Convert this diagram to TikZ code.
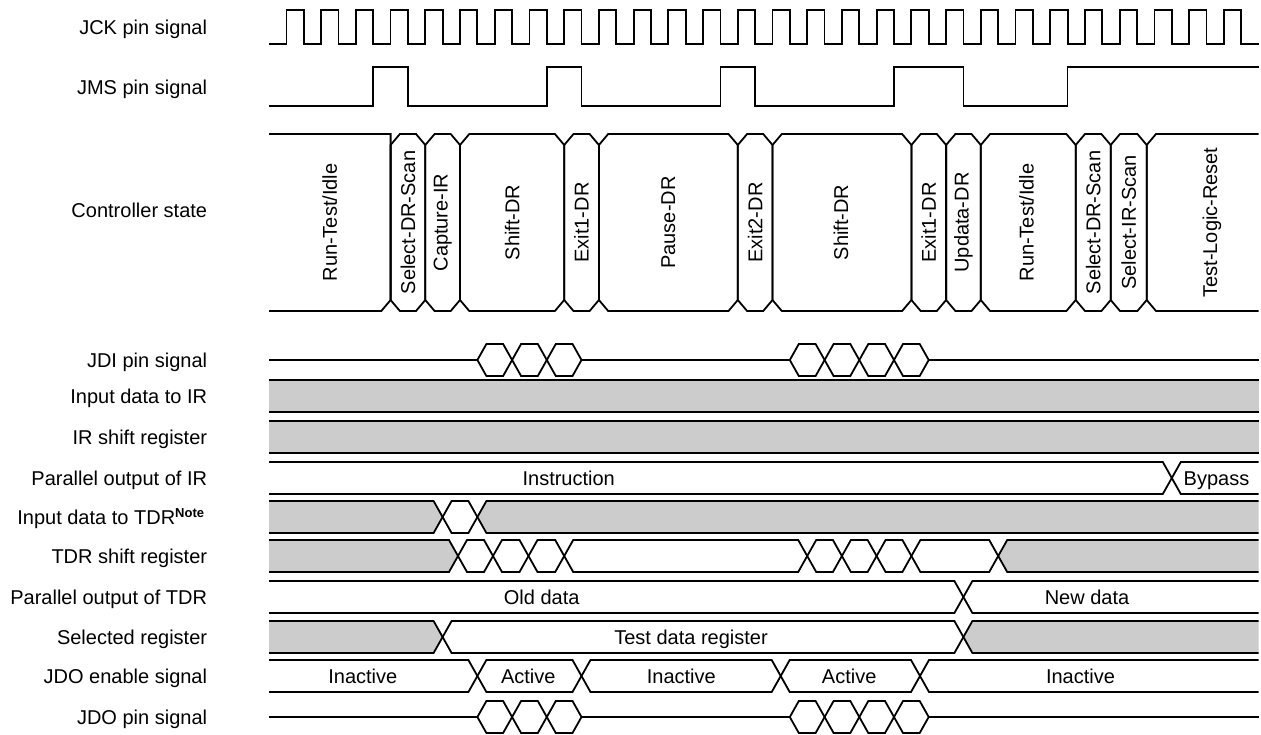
\documentclass[tikz,border=0pt]{standalone}
\usepackage{fontspec}
\setmainfont{Liberation Sans}
\definecolor{busgray}{gray}{0.8}
% bus segment helpers: #1 top y, #2 bottom y, #3 left x, #4 right x, #5 fill
\newcommand\segM[5]{%
  \filldraw[fill=#5] (#3,{(#1+#2)/2}) -- (#3+9,#1) -- (#4-9,#1) -- (#4,{(#1+#2)/2}) -- (#4-9,#2) -- (#3+9,#2) -- cycle;}
\newcommand\segL[5]{%
  \fill[#5] (#3,#1) -- (#4-9,#1) -- (#4,{(#1+#2)/2}) -- (#4-9,#2) -- (#3,#2) -- cycle;
  \draw (#3,#1) -- (#4-9,#1) -- (#4,{(#1+#2)/2}) -- (#4-9,#2) -- (#3,#2);}
\newcommand\segR[5]{%
  \fill[#5] (#4,#1) -- (#3+9,#1) -- (#3,{(#1+#2)/2}) -- (#3+9,#2) -- (#4,#2) -- cycle;
  \draw (#4,#1) -- (#3+9,#1) -- (#3,{(#1+#2)/2}) -- (#3+9,#2) -- (#4,#2);}
\newcommand\segF[5]{%
  \fill[#5] (#3,#1) rectangle (#4,#2);
  \draw (#3,#1) -- (#4,#1) (#3,#2) -- (#4,#2);}
\newcommand\stcell[2]{%
  \draw (#1,145) -- (#1+9.3,134) -- (#2-9.3,134) -- (#2,145) -- (#2,300) -- (#2-9.3,311) -- (#1+9.3,311) -- (#1,300) -- cycle;}
\begin{document}
\begin{tikzpicture}[x=1pt,y=-1pt,line width=1.8pt,line join=miter,
  lab/.style={anchor=base east,inner sep=0pt,font=\fontsize{20}{24}\selectfont},
  dtext/.style={anchor=base,inner sep=0pt,font=\fontsize{20}{24}\selectfont},
  stext/.style={rotate=90,inner sep=0pt,font=\fontsize{20}{24}\selectfont}]
\useasboundingbox (0,0) rectangle (1261,734);

% ---------- left labels ----------
\node[lab] (lJCK) at (208,34) {JCK pin signal};
\node[lab] (lJMS) at (208,94) {JMS pin signal};
\node[lab] (lCS)  at (208,217) {Controller state};
\node[lab] (lJDI) at (208,367) {JDI pin signal};
\node[lab] (lIIR) at (208,403) {Input data to IR};
\node[lab] (lIRS) at (208,444) {IR shift register};
\node[lab] (lPIR) at (208,485) {Parallel output of IR};
\node[lab] (lITD) at (205,524) {Input data to TDR\raisebox{7pt}{\fontsize{13}{13}\selectfont\bfseries Note}};
\node[lab] (lTSR) at (208,563) {TDR shift register};
\node[lab] (lPTD) at (208,604) {Parallel output of TDR};
\node[lab] (lSEL) at (208,644) {Selected register};
\node[lab] (lJEN) at (208,683) {JDO enable signal};
\node[lab] (lJDO) at (208,724) {JDO pin signal};

% ---------- JCK ----------
\draw (269,44) \foreach \k in {0,...,27} {
   -- ({286.4+34.72*\k},44) -- ({286.4+34.72*\k},10)
   -- ({303.76+34.72*\k},10) -- ({303.76+34.72*\k},44) } -- (1258.5,44);

% ---------- JMS ----------
\draw (269,106) -- (373.2,106) -- (373.2,66.7) -- (407.9,66.7) -- (407.9,106)
  -- (546.8,106) -- (546.8,66.7) -- (581.5,66.7) -- (581.5,106)
  -- (720.4,106) -- (720.4,66.7) -- (755.1,66.7) -- (755.1,106)
  -- (894.0,106) -- (894.0,66.7) -- (963.4,66.7) -- (963.4,106)
  -- (1067.5,106) -- (1067.5,66.7) -- (1258.5,66.7);

% ---------- Controller state ----------
\draw (269,134) -- (390.6,134) -- (390.6,300) -- (381.3,311) -- (269,311);
\stcell{390.6}{425.3}
\stcell{425.3}{460.0}
\stcell{460.0}{564.2}
\stcell{564.2}{598.9}
\stcell{598.9}{737.8}
\stcell{737.8}{772.5}
\stcell{772.5}{911.4}
\stcell{911.4}{946.1}
\stcell{946.1}{980.8}
\stcell{980.8}{1075.7}
\stcell{1075.7}{1110.7}
\stcell{1110.7}{1146.7}
\draw (1258.5,134) -- (1156,134) -- (1146.7,145) -- (1146.7,300) -- (1156,311) -- (1258.5,311);

\node[stext] (s1)  at (329.8,222.5) {Run-Test/Idle};
\node[stext] (s2)  at (408.0,222.5) {Select-DR-Scan};
\node[stext] (s3)  at (442.6,222.5) {Capture-IR};
\node[stext] (s4)  at (512.1,222.5) {Shift-DR};
\node[stext] (s5)  at (581.5,222.5) {Exit1-DR};
\node[stext] (s6)  at (668.3,222.5) {Pause-DR};
\node[stext] (s7)  at (755.1,222.5) {Exit2-DR};
\node[stext] (s8)  at (841.0,222.5) {Shift-DR};
\node[stext] (s9)  at (928.7,222.5) {Exit1-DR};
\node[stext] (s10) at (963.4,222.5) {Updata-DR};
\node[stext] (s11) at (1026.5,222.5) {Run-Test/Idle};
\node[stext] (s12) at (1093.2,222.5) {Select-DR-Scan};
\node[stext] (s13) at (1128.7,222.5) {Select-IR-Scan};
\node[stext] (s14) at (1212.0,222.5) {Test-Logic-Reset};

% ---------- JDI pin ----------
\draw (269,360) -- (477.4,360);
\segM{344}{376}{477.4}{512.1}{white}
\segM{344}{376}{512.1}{546.8}{white}
\segM{344}{376}{546.8}{581.5}{white}
\draw (581.5,360) -- (789.8,360);
\segM{344}{376}{789.8}{824.6}{white}
\segM{344}{376}{824.6}{859.3}{white}
\segM{344}{376}{859.3}{894.0}{white}
\segM{344}{376}{894.0}{928.7}{white}
\draw (928.7,360) -- (1258.5,360);

% ---------- Input data to IR / IR shift register ----------
\segF{380}{412}{269}{1258.5}{busgray}
\segF{421}{453}{269}{1258.5}{busgray}

% ---------- Parallel output of IR ----------
\segL{462}{494}{269}{1171.8}{white}
\segR{462}{494}{1171.8}{1258.5}{white}
\node[dtext] (tInstr) at (568.7,485) {Instruction};
\node[dtext] (tBypass) at (1216.5,485) {Bypass};

% ---------- Input data to TDR ----------
\segL{501}{533}{269}{442.6}{busgray}
\segM{501}{533}{442.6}{477.4}{white}
\segR{501}{533}{477.4}{1258.5}{busgray}

% ---------- TDR shift register ----------
\segL{540}{572}{269}{458}{busgray}
\segM{540}{572}{458}{493}{white}
\segM{540}{572}{493}{528.5}{white}
\segM{540}{572}{528.5}{564.2}{white}
\segM{540}{572}{564.2}{807.2}{white}
\segM{540}{572}{807.2}{841.9}{white}
\segM{540}{572}{841.9}{876.6}{white}
\segM{540}{572}{876.6}{911.4}{white}
\segM{540}{572}{911.4}{998.2}{white}
\segR{540}{572}{998.2}{1258.5}{busgray}

% ---------- Parallel output of TDR ----------
\segL{581}{613}{269}{963.4}{white}
\segR{581}{613}{963.4}{1258.5}{white}
\node[dtext] (tOld) at (541.7,604) {Old data};
\node[dtext] (tNew) at (1087,604) {New data};

% ---------- Selected register ----------
\segL{621}{653}{269}{442.6}{busgray}
\segM{621}{653}{442.6}{963.4}{white}
\segR{621}{653}{963.4}{1258.5}{busgray}
\node[dtext] (tTDR) at (691,644) {Test data register};

% ---------- JDO enable ----------
\segL{660}{692}{269}{477.4}{white}
\segM{660}{692}{477.4}{581.5}{white}
\segM{660}{692}{581.5}{780.7}{white}
\segM{660}{692}{780.7}{920}{white}
\segR{660}{692}{920}{1258.5}{white}
\node[dtext] (tIn1) at (362.8,683) {Inactive};
\node[dtext] (tAc1) at (528.3,683) {Active};
\node[dtext] (tIn2) at (681.3,683) {Inactive};
\node[dtext] (tAc2) at (849.2,683) {Active};
\node[dtext] (tIn3) at (1080.5,683) {Inactive};

% ---------- JDO pin ----------
\draw (269,717) -- (477.4,717);
\segM{701}{733}{477.4}{512.1}{white}
\segM{701}{733}{512.1}{546.8}{white}
\segM{701}{733}{546.8}{581.5}{white}
\draw (581.5,717) -- (789.8,717);
\segM{701}{733}{789.8}{824.6}{white}
\segM{701}{733}{824.6}{859.3}{white}
\segM{701}{733}{859.3}{894.0}{white}
\segM{701}{733}{894.0}{928.7}{white}
\draw (928.7,717) -- (1258.5,717);
\end{tikzpicture}
\end{document}
